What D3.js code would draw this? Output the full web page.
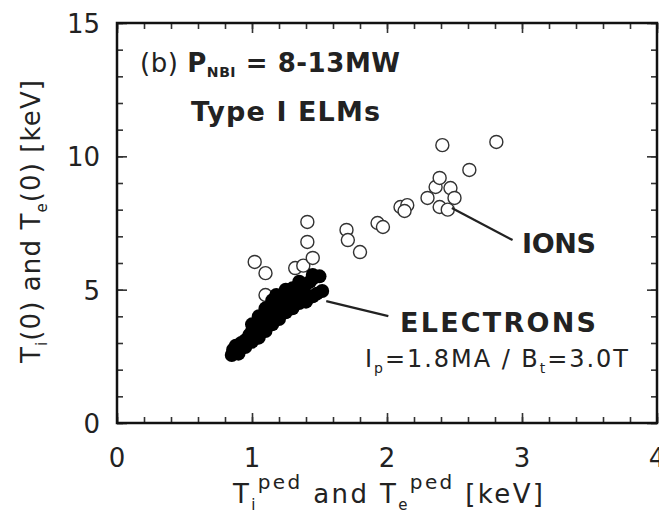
<!DOCTYPE html>
<html>
<meta charset="UTF-8">
<head>
<script src="https://d3js.org/d3.v7.min.js"></script>
<style>
  body { margin: 0; background: #fff; }
  svg { font-family: "DejaVu Sans", "Liberation Sans", Arial, sans-serif; }
</style>
</head>
<body>
<div id="chart"></div>
<script>
// ions (open circles) - central temperature vs pedestal temperature
var ionsX = [1.02, 1.10, 1.10, 1.32, 1.38, 1.41, 1.41, 1.45, 1.70, 1.71, 1.80, 1.93, 1.97,
             2.10, 2.15, 2.13, 2.30, 2.36, 2.39, 2.47, 2.39, 2.50, 2.45, 2.41, 2.61, 2.81];
var ionsY = [6.04, 5.62, 4.80, 5.81, 5.90, 7.54, 6.79, 6.19, 7.24, 6.86, 6.41, 7.50, 7.35,
             8.10, 8.17, 7.95, 8.44, 8.85, 9.19, 8.81, 8.10, 8.44, 8.00, 10.42, 9.49, 10.54];

// electrons (filled circles)
var elecX = [0.85, 0.86, 0.88, 0.92, 0.95, 0.98, 1.00, 1.03, 1.05, 1.06, 1.08, 1.10, 1.12, 1.13,
             1.16, 1.18, 1.20, 1.22, 1.25, 1.27, 1.30, 1.30, 1.33, 1.35, 1.38, 1.40, 1.43, 1.46,
             1.50, 1.48, 1.42, 1.15, 0.90, 0.95, 1.00, 1.05, 1.10, 1.15, 1.20, 1.25, 1.30, 1.35,
             1.40, 1.45, 1.52, 1.00, 1.05, 1.10, 1.18, 1.25, 1.35, 1.45];
var elecY = [2.55, 2.75, 2.90, 3.00, 3.10, 3.30, 3.45, 3.55, 3.35, 3.80, 3.60, 3.95, 4.15, 3.75,
             4.30, 4.05, 4.50, 4.70, 4.40, 4.90, 5.05, 4.60, 4.80, 5.10, 4.90, 5.20, 5.30, 5.45,
             5.50, 4.85, 4.70, 4.60, 2.60, 2.85, 3.05, 3.20, 3.45, 3.70, 3.90, 4.15, 4.30, 4.50,
             4.55, 4.75, 4.95, 3.70, 4.00, 4.30, 4.80, 5.00, 5.30, 5.55];

var xTicks = [0, 1, 2, 3, 4];
var yTicks = [0, 5, 10, 15];

// leader lines [x1, y1, x2, y2] in data units
var ionsLeader = [2.48, 8.06, 2.93, 6.86];
var elecLeader = [1.55, 4.57, 2.01, 4.01];

var width = 659, height = 519;
var margin = {top: 23, right: 2, bottom: 96, left: 117};

var svg = d3.select("#chart").append("svg")
  .attr("width", width)
  .attr("height", height);

var x = d3.scaleLinear().domain([0, 4]).range([margin.left, width - margin.right]);
var y = d3.scaleLinear().domain([0, 15]).range([height - margin.bottom, margin.top]);

var xMinor = d3.range(0, 4.001, 0.2);
var yMinor = d3.range(0, 15.001, 1);

function tickAxis(axis, ticks, size) {
  return axis.tickValues(ticks).tickSize(size).tickFormat("").tickSizeOuter(0);
}

// inward ticks on all four sides
var g = svg.append("g").attr("class", "ticks");
g.append("g").attr("transform", `translate(0,${y(0)})`).call(tickAxis(d3.axisTop(x), xMinor, 6));
g.append("g").attr("transform", `translate(0,${y(0)})`).call(tickAxis(d3.axisTop(x), xTicks, 10));
g.append("g").attr("transform", `translate(0,${y(15)})`).call(tickAxis(d3.axisBottom(x), xMinor, 6));
g.append("g").attr("transform", `translate(0,${y(15)})`).call(tickAxis(d3.axisBottom(x), xTicks, 10));
g.append("g").attr("transform", `translate(${x(0)},0)`).call(tickAxis(d3.axisRight(y), yMinor, 6));
g.append("g").attr("transform", `translate(${x(0)},0)`).call(tickAxis(d3.axisRight(y), yTicks, 10));
g.append("g").attr("transform", `translate(${x(4)},0)`).call(tickAxis(d3.axisLeft(y), yMinor, 6));
g.append("g").attr("transform", `translate(${x(4)},0)`).call(tickAxis(d3.axisLeft(y), yTicks, 10));
g.selectAll(".domain").remove();
g.selectAll("line").attr("stroke", "#333").attr("stroke-width", 1.6);

// frame
svg.append("rect")
  .attr("x", x(0)).attr("y", y(15))
  .attr("width", x(4) - x(0)).attr("height", y(0) - y(15))
  .attr("fill", "none").attr("stroke", "#111").attr("stroke-width", 2.5);

// tick labels
svg.append("g").selectAll("text").data(xTicks).enter().append("text")
  .attr("x", d => x(d)).attr("y", y(0) + 44)
  .attr("text-anchor", "middle").attr("font-size", 26).attr("fill", "#222")
  .text(d => d);
svg.append("g").selectAll("text").data(yTicks).enter().append("text")
  .attr("x", x(0) - 17).attr("y", d => y(d) + 10)
  .attr("text-anchor", "end").attr("font-size", 26).attr("fill", "#222")
  .text(d => d);

// points
svg.append("g").selectAll("circle").data(ionsX).enter().append("circle")
  .attr("cx", d => x(d)).attr("cy", (d, i) => y(ionsY[i]))
  .attr("r", 6.5).attr("fill", "#fff").attr("stroke", "#333").attr("stroke-width", 1.4);
svg.append("g").selectAll("circle").data(elecX).enter().append("circle")
  .attr("cx", d => x(d)).attr("cy", (d, i) => y(elecY[i]))
  .attr("r", 7).attr("fill", "#000");

// leader lines
[ionsLeader, elecLeader].forEach(function (l) {
  svg.append("line")
    .attr("x1", x(l[0])).attr("y1", y(l[1]))
    .attr("x2", x(l[2])).attr("y2", y(l[3]))
    .attr("stroke", "#222").attr("stroke-width", 2.2);
});

// annotations
svg.append("text").attr("x", 522).attr("y", 253)
  .attr("font-size", 27).attr("font-weight", "bold").attr("fill", "#222")
  .attr("textLength", 74).text("IONS");
svg.append("text").attr("x", 400).attr("y", 332)
  .attr("font-size", 27).attr("font-weight", "bold").attr("fill", "#222")
  .attr("textLength", 196).text("ELECTRONS");

var t1 = svg.append("text").attr("x", 140).attr("y", 72)
  .attr("font-size", 26).attr("font-weight", "bold").attr("fill", "#222")
  .attr("textLength", 260);
t1.append("tspan").attr("font-weight", "normal").text("(b) ");
t1.append("tspan").text("P");
t1.append("tspan").attr("font-size", 14).attr("dy", 5).text("NBI");
t1.append("tspan").attr("dy", -5).text(" = 8-13MW");

svg.append("text").attr("x", 191).attr("y", 121)
  .attr("font-size", 27).attr("font-weight", "bold").attr("fill", "#222")
  .attr("textLength", 189).text("Type I ELMs");

var t2 = svg.append("text").attr("x", 365).attr("y", 367)
  .attr("font-size", 24).attr("fill", "#222")
  .attr("textLength", 263);
t2.append("tspan").text("I");
t2.append("tspan").attr("font-size", 14).attr("dy", 6).text("p");
t2.append("tspan").attr("dy", -6).text("=1.8MA / B");
t2.append("tspan").attr("font-size", 14).attr("dy", 6).text("t");
t2.append("tspan").attr("dy", -6).text("=3.0T");

// axis titles
var xt = svg.append("text").attr("x", 233).attr("y", 503)
  .attr("font-size", 26).attr("fill", "#222")
  .attr("textLength", 310);
xt.append("tspan").text("T");
xt.append("tspan").attr("font-size", 15).attr("dy", 7).text("i");
xt.append("tspan").attr("font-size", 20).attr("dy", -21).text("ped");
xt.append("tspan").attr("dy", 14).text(" and T");
xt.append("tspan").attr("font-size", 15).attr("dy", 7).text("e");
xt.append("tspan").attr("font-size", 20).attr("dy", -21).text("ped");
xt.append("tspan").attr("dy", 14).text(" [keV]");

var yt = svg.append("text")
  .attr("transform", "translate(40,363) rotate(-90)")
  .attr("font-size", 26).attr("fill", "#222")
  .attr("textLength", 283);
yt.append("tspan").text("T");
yt.append("tspan").attr("font-size", 15).attr("dy", 7).text("i");
yt.append("tspan").attr("dy", -7).text("(0) and T");
yt.append("tspan").attr("font-size", 15).attr("dy", 7).text("e");
yt.append("tspan").attr("dy", -7).text("(0) [keV]");
</script>
</body>
</html>
